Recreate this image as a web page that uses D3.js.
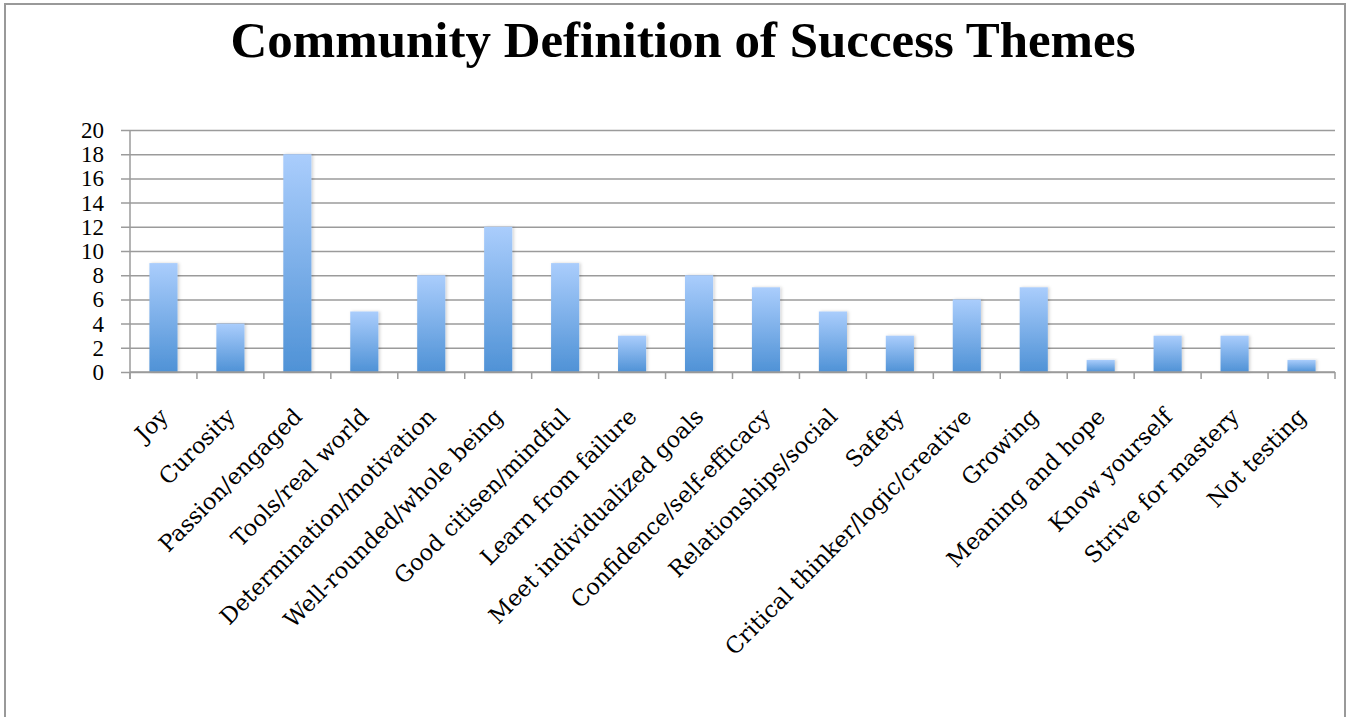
<!DOCTYPE html>
<html>
<head>
<meta charset="utf-8">
<script src="https://cdn.jsdelivr.net/npm/d3@7"></script>
<style>
  html, body { margin: 0; padding: 0; background: #fff; }
  svg { display: block; }
</style>
</head>
<body>
<svg id="chart" width="1350" height="717"></svg>
<script>
// Themes and the number of mentions for each
const categories = [
  "Joy", "Curosity", "Passion/engaged", "Tools/real world",
  "Determination/motivation", "Well-rounded/whole being",
  "Good citisen/mindful", "Learn from failure", "Meet individualized goals",
  "Confidence/self-efficacy", "Relationships/social", "Safety",
  "Critical thinker/logic/creative", "Growing", "Meaning and hope",
  "Know yourself", "Strive for mastery", "Not testing"
];
const values = [9, 4, 18, 5, 8, 12, 9, 3, 8, 7, 5, 3, 6, 7, 1, 3, 3, 1];
const yTicks = [0, 2, 4, 6, 8, 10, 12, 14, 16, 18, 20];
const title = "Community Definition of Success Themes";

const svg = d3.select("#chart");
const plot = { left: 130, right: 1335, top: 130, bottom: 372 };
const gridColor = "#9b9b9b";
const labelFont = "'DejaVu Serif', 'Liberation Serif', serif";
const tickFont = "'Liberation Serif', serif";

// Outer frame (bottom edge falls outside the view)
svg.append("rect")
  .attr("x", 5).attr("y", 4)
  .attr("width", 1340).attr("height", 760)
  .attr("fill", "#fff")
  .attr("stroke", "#999").attr("stroke-width", 2);

// Title
svg.append("text")
  .attr("x", 683).attr("y", 57)
  .attr("text-anchor", "middle")
  .attr("font-family", "'Liberation Serif', serif")
  .attr("font-weight", "bold")
  .attr("font-size", 51)
  .attr("textLength", 905)
  .attr("lengthAdjust", "spacingAndGlyphs")
  .text(title);

const x = d3.scaleBand()
  .domain(categories)
  .range([plot.left, plot.right])
  .paddingInner(0.58)
  .paddingOuter(0.29);

const y = d3.scaleLinear()
  .domain([0, 20])
  .range([plot.bottom, plot.top]);

// Bar gradient and soft shadow
const defs = svg.append("defs");
const grad = defs.append("linearGradient")
  .attr("id", "barGrad")
  .attr("x1", 0).attr("y1", 0).attr("x2", 0).attr("y2", 1);
grad.append("stop").attr("offset", "0%").attr("stop-color", "#aacdfc");
grad.append("stop").attr("offset", "100%").attr("stop-color", "#4f92d6");

const shadow = defs.append("filter").attr("id", "barShadow")
  .attr("x", "-30%").attr("y", "-10%").attr("width", "160%").attr("height", "120%");
shadow.append("feDropShadow")
  .attr("dx", 1.5).attr("dy", 0).attr("stdDeviation", 1.5)
  .attr("flood-color", "#000").attr("flood-opacity", 0.18);

// Horizontal gridlines with y axis ticks extending left
const yAxis = d3.axisLeft(y)
  .tickValues(yTicks)
  .tickSize(plot.right - plot.left + 9)
  .tickSizeOuter(0)
  .tickPadding(17);

const gy = svg.append("g")
  .attr("transform", `translate(${plot.right},0)`)
  .call(yAxis);
gy.select(".domain").remove();
gy.selectAll(".tick line")
  .attr("stroke", gridColor).attr("stroke-width", 1.5);
gy.selectAll(".tick text")
  .attr("font-family", tickFont)
  .attr("font-size", 23)
  .attr("fill", "#000")
  .attr("dy", "0.33em");

// Y axis line
svg.append("line")
  .attr("x1", plot.left).attr("x2", plot.left)
  .attr("y1", plot.top).attr("y2", plot.bottom + 7)
  .attr("stroke", gridColor).attr("stroke-width", 1.5);

// Bars
svg.append("g")
  .selectAll("rect")
  .data(values)
  .join("rect")
  .attr("x", (d, i) => x(categories[i]))
  .attr("y", d => y(d))
  .attr("width", x.bandwidth())
  .attr("height", d => y(0) - y(d))
  .attr("fill", "url(#barGrad)")
  .attr("filter", "url(#barShadow)");

// X axis line and category boundary ticks
const gx = svg.append("g");
gx.append("line")
  .attr("x1", plot.left).attr("x2", plot.right)
  .attr("y1", plot.bottom).attr("y2", plot.bottom)
  .attr("stroke", gridColor).attr("stroke-width", 1.5);
const boundaries = d3.range(categories.length + 1)
  .map(i => plot.left + i * x.step());
gx.selectAll("line.tick")
  .data(boundaries)
  .join("line")
  .attr("class", "tick")
  .attr("x1", d => d).attr("x2", d => d)
  .attr("y1", plot.bottom).attr("y2", plot.bottom + 7)
  .attr("stroke", gridColor).attr("stroke-width", 1.5);

// Rotated category labels
svg.append("g")
  .selectAll("text")
  .data(categories)
  .join("text")
  .attr("transform", d => `translate(${x(d) + x.bandwidth() / 2 + 6},418) rotate(-45)`)
  .attr("text-anchor", "end")
  .attr("font-family", labelFont)
  .attr("font-size", 22.5)
  .attr("fill", "#000")
  .text(d => d);
</script>
</body>
</html>
